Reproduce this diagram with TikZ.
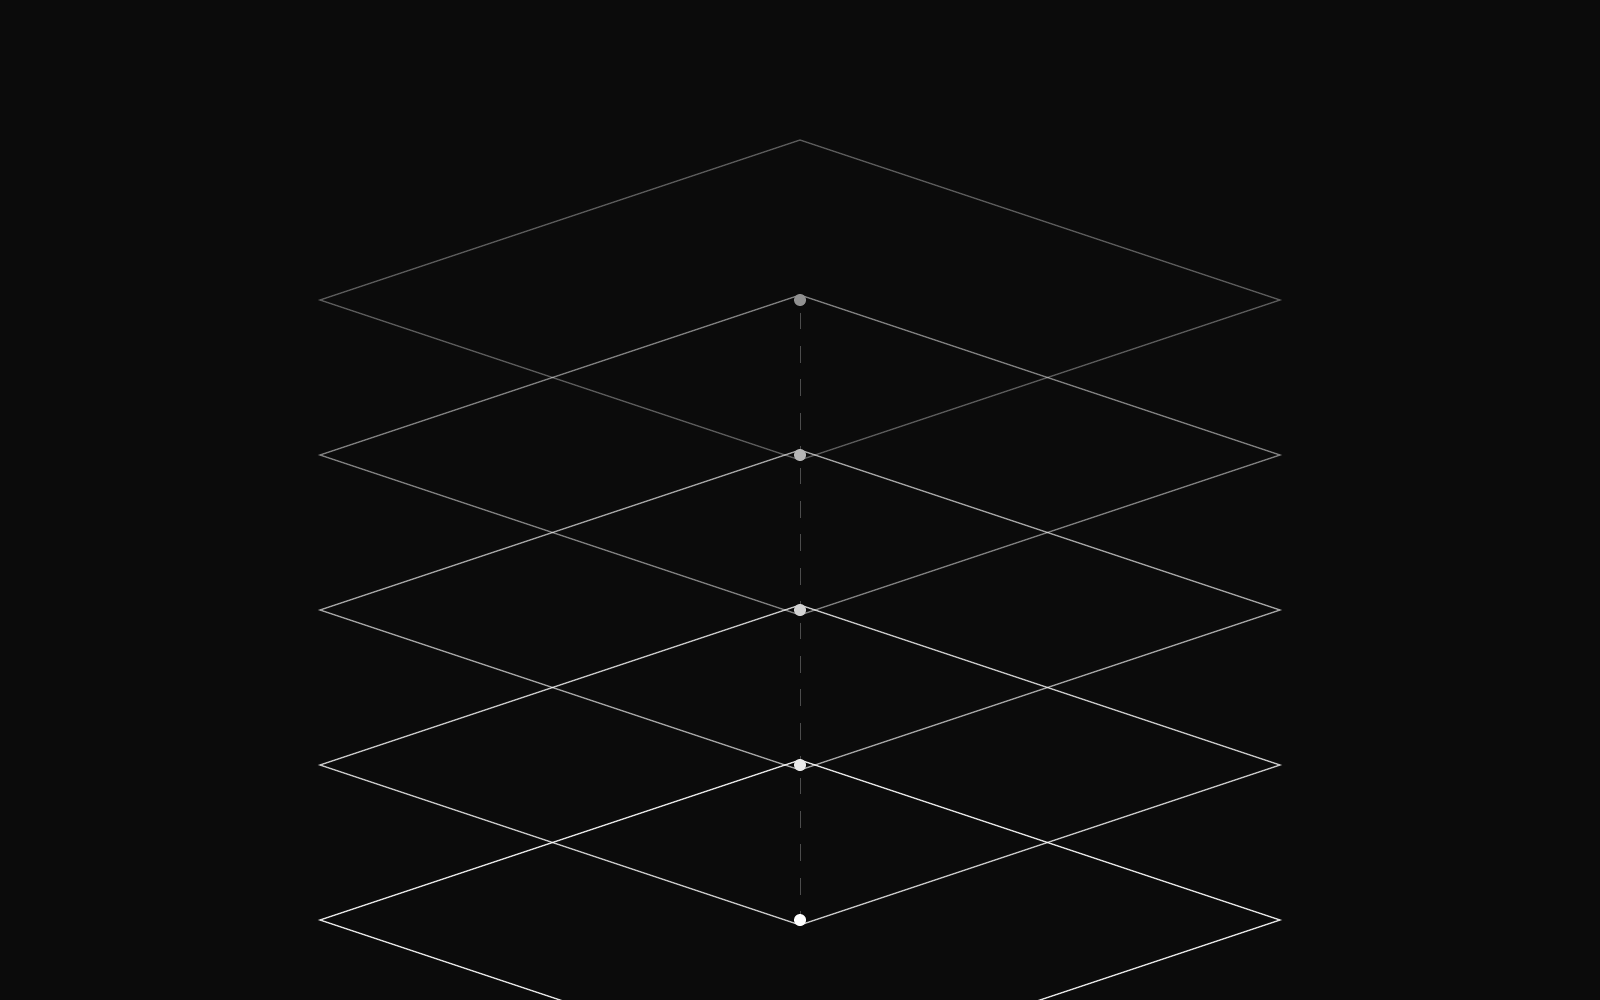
\documentclass[tikz,border=0pt]{standalone}
\begin{document}
\begin{tikzpicture}[x=1pt,y=-1pt,
  plane/.style={line width=1.3pt, line join=miter},
  dotnode/.style={circle, inner sep=0pt, minimum size=12pt},
  axisline/.style={draw=white!30!black, line width=1pt, dash pattern=on 16.7pt off 16.7pt, dash phase=27pt}]
\definecolor{bg}{HTML}{0B0B0B}
\useasboundingbox (0,0) rectangle (1600,1000);
\fill[bg] (0,0) rectangle (1600,1000);
\clip (0,0) rectangle (1600,1000);
% planes
\foreach \k/\op in {0/0.32,1/0.47,2/0.62,3/0.76,4/0.88}{
  \pgfmathsetmacro{\cy}{300+155*\k}
  \draw[plane, draw=white, draw opacity=\op]
    (800,\cy-160) -- (1280,\cy) -- (800,\cy+160) -- (320,\cy) -- cycle;
}
% centre points
\node[dotnode, fill=white!55!bg] (d0) at (800,300) {};
\node[dotnode, fill=white!70!bg] (d1) at (800,455) {};
\node[dotnode, fill=white!82!bg] (d2) at (800,610) {};
\node[dotnode, fill=white!92!bg] (d3) at (800,765) {};
\node[dotnode, fill=white] (d4) at (800,920) {};
% axis
\draw[axisline] (d0) -- (d1);
\draw[axisline] (d1) -- (d2);
\draw[axisline] (d2) -- (d3);
\draw[axisline] (d3) -- (d4);
\end{tikzpicture}
\end{document}
